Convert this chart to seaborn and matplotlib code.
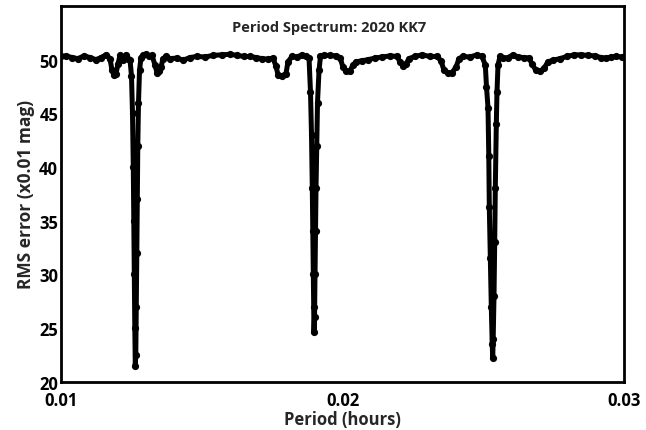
import matplotlib
matplotlib.use("Agg")
import matplotlib.pyplot as plt
import seaborn as sns
import pandas as pd
import numpy as np
from matplotlib.ticker import MultipleLocator

# ---- data (period in hours, RMS error in 0.01 mag) ----
base_period = [0.01000, 0.010178, 0.010391, 0.010604, 0.010817, 0.011030, 0.011243, 0.011421,
               0.011599, 0.011741, 0.011812, 0.011883, 0.011954, 0.012025, 0.012096, 0.012202,
               0.012309, 0.012380]
base_rms = [50.30, 50.35, 50.20, 50.10, 50.35, 50.20, 50.00, 50.20,
            50.45, 50.10, 49.00, 48.60, 48.70, 49.60, 50.40, 50.00,
            50.45, 50.10]

dip1_period = [0.012451, 0.012504, 0.012540, 0.012568, 0.012586, 0.012604, 0.012622, 0.012639,
               0.012657, 0.012675, 0.012693, 0.012710, 0.012728, 0.012753, 0.012789, 0.012842]
dip1_rms = [50.0, 48.5, 45.0, 40.0, 35.0, 30.0, 25.0, 21.5,
            22.5, 27.0, 32.0, 37.0, 42.0, 46.0, 49.0, 50.2]

mid1_period = [0.012913, 0.013020, 0.013126, 0.013233, 0.013339, 0.013410, 0.013481, 0.013552,
               0.013623, 0.013730, 0.013872, 0.014121, 0.014334, 0.014583, 0.014831, 0.015115,
               0.015400, 0.015719, 0.016004, 0.016252, 0.016501, 0.016714, 0.016927, 0.017140,
               0.017353, 0.017531, 0.017637, 0.017708, 0.017850, 0.017992, 0.018063, 0.018206,
               0.018383, 0.018561, 0.018703]
mid1_rms = [50.40, 50.50, 50.30, 50.40, 49.50, 48.80, 48.90, 49.30,
            50.10, 50.30, 50.10, 50.15, 49.95, 50.20, 50.30, 50.25,
            50.40, 50.45, 50.50, 50.40, 50.30, 50.30, 50.20, 50.10,
            50.05, 50.15, 49.40, 48.60, 48.50, 48.70, 49.80, 50.30,
            50.25, 50.45, 50.30]

dip2_period = [0.018810, 0.018863, 0.018899, 0.018927, 0.018945, 0.018963, 0.018977, 0.018988,
               0.019006, 0.019023, 0.019041, 0.019059, 0.019087, 0.019112, 0.019166, 0.019218]
dip2_rms = [50.2, 47.0, 43.0, 38.0, 34.0, 30.0, 27.0, 24.6,
            26.0, 30.0, 34.0, 38.0, 42.0, 46.0, 49.0, 50.3]

mid2_period = [0.019343, 0.019556, 0.019769, 0.019911, 0.020018, 0.020124, 0.020266, 0.020373,
               0.020480, 0.020693, 0.020906, 0.021155, 0.021403, 0.021687, 0.021936, 0.022043,
               0.022149, 0.022256, 0.022362, 0.022576, 0.022824, 0.023108, 0.023357, 0.023499,
               0.023606, 0.023748, 0.023890, 0.024032, 0.024139, 0.024281, 0.024529, 0.024778,
               0.024956]
mid2_rms = [50.40, 50.40, 50.35, 50.20, 49.30, 48.90, 48.95, 49.50,
            49.80, 49.90, 50.00, 50.15, 50.25, 50.35, 50.30, 49.80,
            49.45, 49.60, 50.10, 50.30, 50.45, 50.30, 50.30, 49.90,
            49.00, 48.75, 48.80, 49.30, 50.10, 50.30, 50.25, 50.45,
            50.30]

dip3_period = [0.025073, 0.025115, 0.025169, 0.025197, 0.025215, 0.025250, 0.025286, 0.025318,
               0.025336, 0.025353, 0.025382, 0.025407, 0.025428, 0.025464, 0.025488, 0.025524,
               0.025595]
dip3_rms = [49.5, 47.5, 45.5, 41.0, 36.3, 31.5, 27.0, 23.5,
            22.2, 24.0, 28.0, 33.0, 38.0, 44.0, 47.0, 49.5,
            50.3]

tail_period = [0.025702, 0.025879, 0.026057, 0.026235, 0.026448, 0.026625, 0.026732, 0.026874,
               0.027016, 0.027158, 0.027300, 0.027478, 0.027727, 0.027975, 0.028224, 0.028473,
               0.028721, 0.028970, 0.029183, 0.029361, 0.029538, 0.029716, 0.029929, 0.030000]
tail_rms = [50.15, 50.20, 50.45, 50.25, 50.20, 50.15, 49.60, 49.00,
            48.90, 49.20, 49.80, 49.95, 50.10, 50.30, 50.45, 50.45,
            50.40, 50.35, 50.20, 50.15, 50.25, 50.30, 50.25, 50.25]

x_ticks = [0.01, 0.02, 0.03]
x_tick_labels = ["0.01", "0.02", "0.03"]
y_ticks = [20, 25, 30, 35, 40, 45, 50]

period = (base_period + dip1_period + mid1_period + dip2_period + mid2_period
          + dip3_period + tail_period)
rms = base_rms + dip1_rms + mid1_rms + dip2_rms + mid2_rms + dip3_rms + tail_rms
df = pd.DataFrame({"period": period, "rms": rms})

sns.set_theme(style="white")
FONT = ["Open Sans", "DejaVu Sans"]
plt.rcParams["font.family"] = FONT

fig = plt.figure(figsize=(6.46, 4.31), dpi=100)
ax = fig.add_axes([61 / 646, 1 - 382.7 / 431, (624 - 61) / 646, (382.7 - 7) / 431])

sns.lineplot(data=df, x="period", y="rms", ax=ax, sort=False, color="black",
             linewidth=3.6, marker="o", markersize=5.2, markeredgewidth=0,
             markerfacecolor="black")

ax.set_xlim(0.01, 0.03)
ax.set_ylim(20, 55)
ax.set_xticks(x_ticks)
ax.set_xticklabels(x_tick_labels)
ax.xaxis.set_minor_locator(MultipleLocator(0.001))
ax.set_yticks(y_ticks)

for s in ax.spines.values():
    s.set_color("black")
    s.set_linewidth(2.0)

ax.tick_params(axis="both", which="both", direction="in", color="#555555",
               width=0.8, labelsize=12, labelcolor="black")
ax.tick_params(axis="x", which="major", length=5, pad=7)
ax.tick_params(axis="x", which="minor", length=5)
ax.tick_params(axis="y", which="major", length=5, pad=2)
ax.tick_params(top=False, right=False)
for lab in ax.get_xticklabels() + ax.get_yticklabels():
    lab.set_fontweight("bold")

ax.set_xlabel("Period (hours)", fontsize=12, fontweight="bold", labelpad=0.5)
ax.set_ylabel("RMS error (x0.01 mag)", fontsize=12.5, fontweight="bold", labelpad=3)
ax.text(0.476, 0.944, "Period Spectrum: 2020 KK7", transform=ax.transAxes,
        ha="center", va="center", fontsize=10.5, fontweight="bold")

fig.savefig("out.png", dpi=100, facecolor="white")
